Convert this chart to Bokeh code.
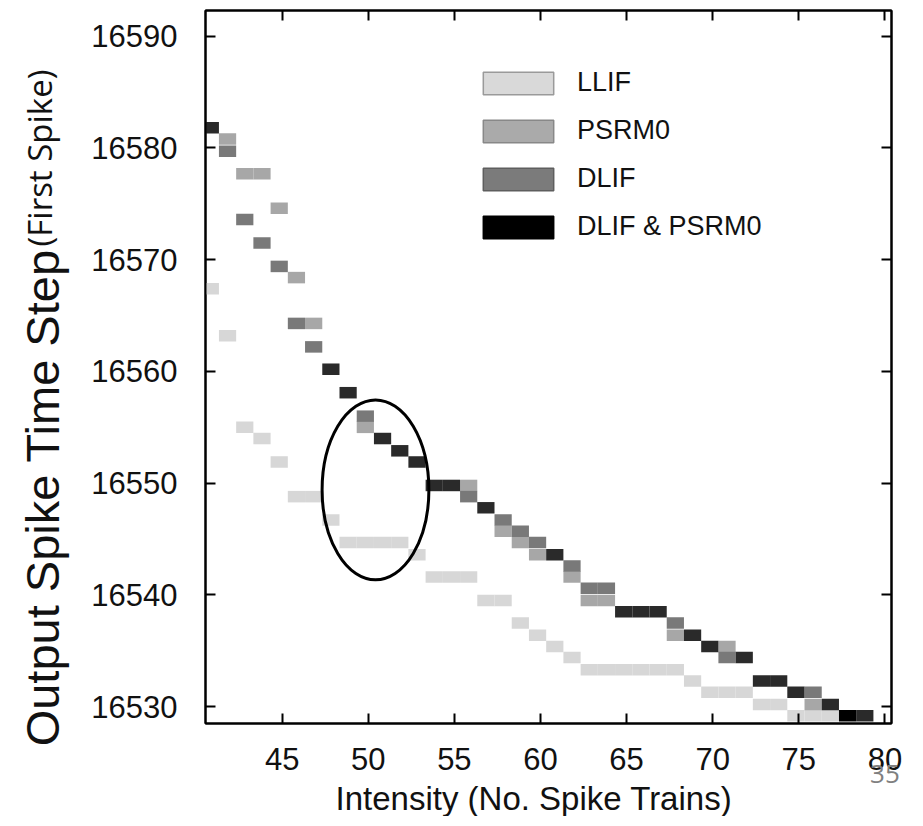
import math
from bokeh.plotting import figure
from bokeh.models import (ColumnDataSource, Range1d, LinearAxis, FixedTicker,
                          Legend, LegendItem, Title, CustomJSTickFormatter)
from bokeh.transform import dodge
from bokeh.embed import file_html
from bokeh.resources import INLINE

# ---- data: intensity (no. spike trains) vs first output spike time step ----
llif_x = [41, 42, 43, 44, 45, 46, 47, 48, 49, 50, 51, 52, 53, 54, 55, 56, 57, 58,
          59, 60, 61, 62, 63, 64, 65, 66, 67, 68, 69, 70, 71, 72, 73, 74, 75, 76, 77]
llif_y = [16567.4, 16563.2, 16555.0, 16554.0, 16551.9, 16548.8, 16548.8, 16546.7,
          16544.7, 16544.7, 16544.7, 16544.7, 16543.6, 16541.6, 16541.6, 16541.6,
          16539.5, 16539.5, 16537.5, 16536.4, 16535.4, 16534.4, 16533.3, 16533.3,
          16533.3, 16533.3, 16533.3, 16533.3, 16532.3, 16531.3, 16531.3, 16531.3,
          16530.2, 16530.2, 16529.2, 16529.2, 16529.2]

psrm0_x = [42, 43, 44, 45, 46, 47, 50, 56, 58, 59, 60, 62, 63, 64, 68, 71, 76]
psrm0_y = [16580.8, 16577.7, 16577.7, 16574.6, 16568.4, 16564.3, 16555.0, 16549.8,
           16545.7, 16544.7, 16543.6, 16541.6, 16539.5, 16539.5, 16536.4, 16535.4,
           16530.2]

dlif_x = [42, 43, 44, 45, 46, 47, 50, 56, 58, 59, 60, 62, 63, 64, 68, 71, 76]
dlif_y = [16579.7, 16573.6, 16571.5, 16569.4, 16564.3, 16562.2, 16556.0, 16548.8,
          16546.7, 16545.7, 16544.7, 16542.6, 16540.6, 16540.6, 16537.5, 16534.4,
          16531.3]

both_x = [41, 48, 49, 51, 52, 53, 54, 55, 57, 61, 65, 66, 67, 69, 70, 72, 73, 74,
          75, 77, 79]
both_y = [16581.8, 16560.2, 16558.1, 16554.0, 16552.9, 16551.9, 16549.8, 16549.8,
          16547.8, 16543.6, 16538.5, 16538.5, 16538.5, 16536.4, 16535.4, 16534.4,
          16532.3, 16532.3, 16531.3, 16530.2, 16529.2]

all_x = [78]
all_y = [16529.2]

x_ticks = [45, 50, 55, 60, 65, 70, 75, 80]
y_ticks = [16530, 16540, 16550, 16560, 16570, 16580, 16590]

# highlighted region (ellipse): centre x, centre y, width, height
highlight = [50.42, 16549.4, 6.2, 16.1]

# text anchors along the axes (data units)
y_title_at = 16548.7
y_subtitle_at = 16579.1
page_number_at = 80

# ---- styles ----
C_LLIF, C_PSRM0, C_DLIF, C_BOTH, C_ALL = "#d7d7d7", "#a7a7a7", "#797979", "#2a2a2a", "#000000"
FONT = "Liberation Sans"
NAN = float("nan")

p = figure(width=913, height=816, output_backend="svg", toolbar_location=None,
           x_range=Range1d(40.55, 80.38), y_range=Range1d(16528.5, 16592.3),
           min_border_left=205, min_border_right=22, min_border_top=10,
           min_border_bottom=93, background_fill_color="white",
           border_fill_color="white")
p.xgrid.visible = False
p.ygrid.visible = False
p.outline_line_color = "black"
p.outline_line_width = 2

CELL_H = 1.03
def cells(xs, ys, color):
    src = ColumnDataSource(data=dict(x=xs, y=ys))
    return p.rect(x=dodge("x", -0.17, range=p.x_range), y="y", width=1, height=CELL_H,
                  source=src, fill_color=color, line_color=None)

cells(llif_x, llif_y, C_LLIF)
cells(psrm0_x, psrm0_y, C_PSRM0)
cells(dlif_x, dlif_y, C_DLIF)
cells(both_x, both_y, C_BOTH)
cells(all_x, all_y, C_ALL)

p.ellipse(x=[highlight[0]], y=[highlight[1]], width=highlight[2], height=highlight[3],
          fill_color=None, line_color="black", line_width=3)

# ---- axes ----
def style_axis(ax, ticks):
    ax.ticker = FixedTicker(ticks=ticks)
    ax.axis_line_color = "black"
    ax.axis_line_width = 2
    ax.major_tick_line_color = "black"
    ax.major_tick_line_width = 2
    ax.major_tick_in = 10
    ax.major_tick_out = 0
    ax.minor_tick_line_color = None
    ax.axis_label = None
    ax.major_label_text_font = FONT
    ax.major_label_text_font_size = "31px"
    ax.major_label_text_color = "#111111"

style_axis(p.xaxis[0], x_ticks)
p.xaxis[0].major_label_standoff = 24
style_axis(p.yaxis[0], y_ticks)
p.yaxis[0].major_label_standoff = 28

blank = CustomJSTickFormatter(code="return ''")
for place, ticks in (("above", x_ticks), ("right", y_ticks)):
    ax = LinearAxis()
    style_axis(ax, ticks)
    ax.formatter = blank
    ax.major_label_text_font_size = "1px"
    ax.major_label_standoff = 0
    p.add_layout(ax, place)

def text_axis(ticks, label, font, size, color, standoff, vertical):
    ax = LinearAxis(ticker=FixedTicker(ticks=[ticks]),
                    major_label_overrides={ticks: label})
    ax.axis_line_color = None
    ax.major_tick_line_color = None
    ax.minor_tick_line_color = None
    ax.major_tick_in = 0
    ax.major_tick_out = 0
    ax.major_label_text_font = font
    ax.major_label_text_font_size = size
    ax.major_label_text_color = color
    ax.major_label_standoff = standoff
    if vertical:
        ax.major_label_orientation = "vertical"
    return ax

# y-axis title in two parts
p.add_layout(text_axis(y_title_at, "Output Spike Time Step", FONT, "47px",
                       "#111111", 19, True), "left")
p.add_layout(text_axis(y_subtitle_at, "(First Spike)", "Open Sans", "33px",
                       "#111111", -49, True), "left")

# slide page number
p.add_layout(text_axis(page_number_at, "35", "Open Sans", "26px", "#808080",
                       -8, False), "below")

# x-axis title
p.add_layout(Title(text="Intensity (No. Spike Trains)", align="left", offset=130,
                   standoff=-15, text_font=FONT, text_font_size="33px",
                   text_font_style="normal", text_color="#111111"), "below")

# ---- legend ----
def swatch(fill, line):
    src = ColumnDataSource(data=dict(x=[NAN], y=[NAN]))
    return p.rect(x="x", y="y", width=1, height=1, source=src,
                  fill_color=fill, line_color=line, line_width=1.5)

items = [
    LegendItem(label="LLIF", renderers=[swatch("#d9d9d9", "#9a9a9a")]),
    LegendItem(label="PSRM0", renderers=[swatch("#aaaaaa", "#888888")]),
    LegendItem(label="DLIF", renderers=[swatch("#7b7b7b", "#5e5e5e")]),
    LegendItem(label="DLIF & PSRM0", renderers=[swatch("#000000", "#000000")]),
]
legend = Legend(items=items, location=(269, 481), padding=0, margin=0, spacing=17,
                glyph_width=88, glyph_height=28, label_height=28, label_standoff=15,
                label_text_font=FONT, label_text_font_size="27px",
                label_text_color="#111111",
                border_line_alpha=0, background_fill_alpha=0)
p.add_layout(legend)

open("out.html", "w").write(file_html(p, INLINE))
